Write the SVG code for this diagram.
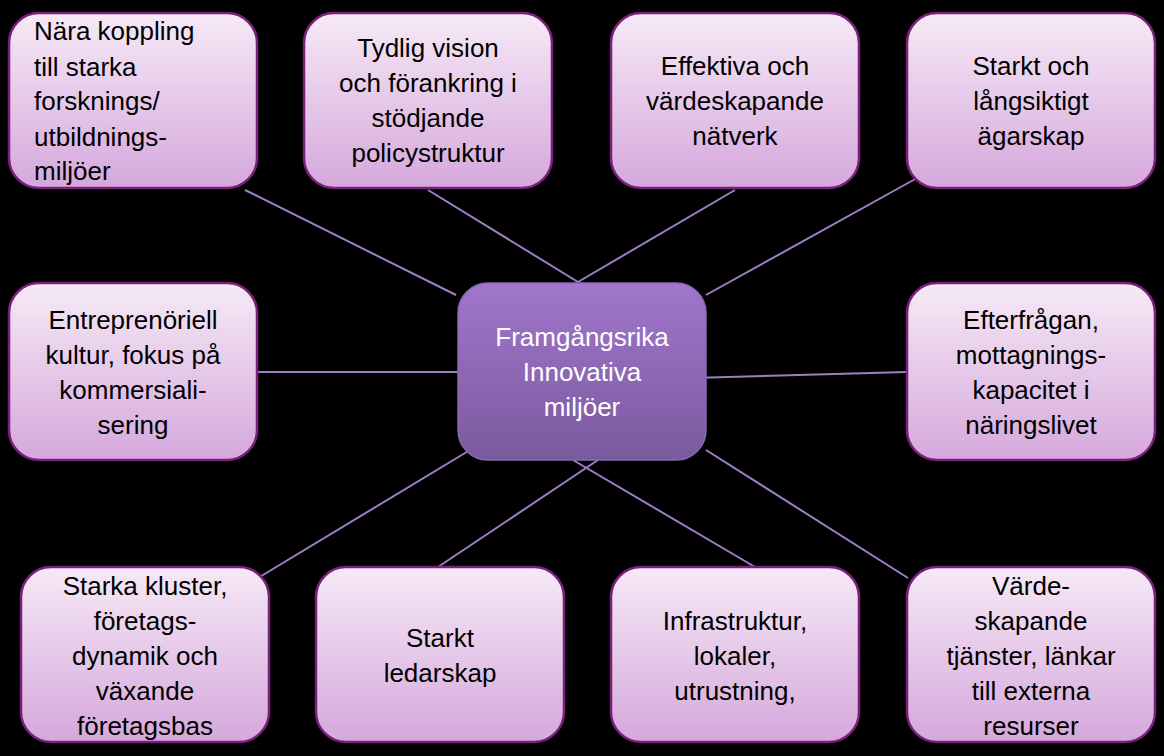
<svg xmlns="http://www.w3.org/2000/svg" width="1164" height="756" viewBox="0 0 1164 756">
<defs>
<linearGradient id="g" x1="0" y1="0" x2="0" y2="1"><stop offset="0" stop-color="#f6e9f6"/><stop offset="1" stop-color="#d5a8dc"/></linearGradient>
<linearGradient id="c" x1="0" y1="0" x2="0" y2="1"><stop offset="0" stop-color="#a176cc"/><stop offset="1" stop-color="#7a5a9e"/></linearGradient>
</defs>
<style>
.n{fill:url(#g);stroke:#7a1f7a;stroke-width:2.5}
.t{font-family:"Liberation Sans",Arial,sans-serif;font-size:26px;fill:#000;text-anchor:middle}
.l{stroke:#9f7ec4;stroke-width:2}
</style>
<rect width="1164" height="756" fill="#000"/>
<g id="connectors" class="l">
<line x1="245" y1="190" x2="456" y2="295"/>
<line x1="428" y1="190" x2="578" y2="282"/>
<line x1="735" y1="190" x2="578" y2="282"/>
<line x1="917" y1="178" x2="706" y2="295"/>
<line x1="257" y1="372" x2="458" y2="372"/>
<line x1="692" y1="378" x2="907" y2="372"/>
<line x1="258" y1="578" x2="470" y2="450"/>
<line x1="438" y1="567" x2="598" y2="460"/>
<line x1="573" y1="460" x2="755" y2="567"/>
<line x1="706" y1="450" x2="908" y2="578"/>
</g>
<g id="center"><rect x="458" y="283" width="248" height="177" rx="30" fill="url(#c)" stroke="#8a6ab0" stroke-width="1.5"/>
<text class="t" fill="#fff" style="fill:#fff"><tspan x="582" y="346">Framgångsrika</tspan><tspan x="582" y="381">Innovativa</tspan><tspan x="582" y="416">miljöer</tspan></text></g>
<g id="n1"><rect class="n" x="9" y="13" width="248" height="175" rx="30"/>
<text class="t" style="text-anchor:start"><tspan x="34" y="40">Nära koppling</tspan><tspan x="34" y="76">till starka</tspan><tspan x="34" y="110">forsknings/</tspan><tspan x="34" y="146">utbildnings-</tspan><tspan x="34" y="180">miljöer</tspan></text></g>
<g id="n2"><rect class="n" x="304" y="13" width="248" height="175" rx="30"/>
<text class="t"><tspan x="428" y="57">Tydlig vision</tspan><tspan x="428" y="92">och förankring i</tspan><tspan x="428" y="127">stödjande</tspan><tspan x="428" y="162">policystruktur</tspan></text></g>
<g id="n3"><rect class="n" x="611" y="13" width="248" height="175" rx="30"/>
<text class="t"><tspan x="735" y="75">Effektiva och</tspan><tspan x="735" y="110">värdeskapande</tspan><tspan x="735" y="145">nätverk</tspan></text></g>
<g id="n4"><rect class="n" x="907" y="13" width="248" height="175" rx="30"/>
<text class="t"><tspan x="1031" y="75">Starkt och</tspan><tspan x="1031" y="110">långsiktigt</tspan><tspan x="1031" y="145">ägarskap</tspan></text></g>
<g id="n5"><rect class="n" x="9" y="283" width="248" height="177" rx="30"/>
<text class="t"><tspan x="133" y="329">Entreprenöriell</tspan><tspan x="133" y="364">kultur, fokus på</tspan><tspan x="133" y="399">kommersiali-</tspan><tspan x="133" y="434">sering</tspan></text></g>
<g id="n6"><rect class="n" x="907" y="283" width="248" height="177" rx="30"/>
<text class="t"><tspan x="1031" y="329">Efterfrågan,</tspan><tspan x="1031" y="364">mottagnings-</tspan><tspan x="1031" y="399">kapacitet i</tspan><tspan x="1031" y="434">näringslivet</tspan></text></g>
<g id="n7"><rect class="n" x="21" y="567" width="248" height="175" rx="30"/>
<text class="t"><tspan x="145" y="595">Starka kluster,</tspan><tspan x="145" y="630">företags-</tspan><tspan x="145" y="665">dynamik och</tspan><tspan x="145" y="700">växande</tspan><tspan x="145" y="735">företagsbas</tspan></text></g>
<g id="n8"><rect class="n" x="316" y="567" width="248" height="175" rx="30"/>
<text class="t"><tspan x="440" y="647">Starkt</tspan><tspan x="440" y="682">ledarskap</tspan></text></g>
<g id="n9"><rect class="n" x="611" y="567" width="248" height="175" rx="30"/>
<text class="t"><tspan x="735" y="630">Infrastruktur,</tspan><tspan x="735" y="665">lokaler,</tspan><tspan x="735" y="700">utrustning,</tspan></text></g>
<g id="n10"><rect class="n" x="907" y="567" width="248" height="175" rx="30"/>
<text class="t"><tspan x="1031" y="595">Värde-</tspan><tspan x="1031" y="630">skapande</tspan><tspan x="1031" y="665">tjänster, länkar</tspan><tspan x="1031" y="700">till externa</tspan><tspan x="1031" y="735">resurser</tspan></text></g>
</svg>
